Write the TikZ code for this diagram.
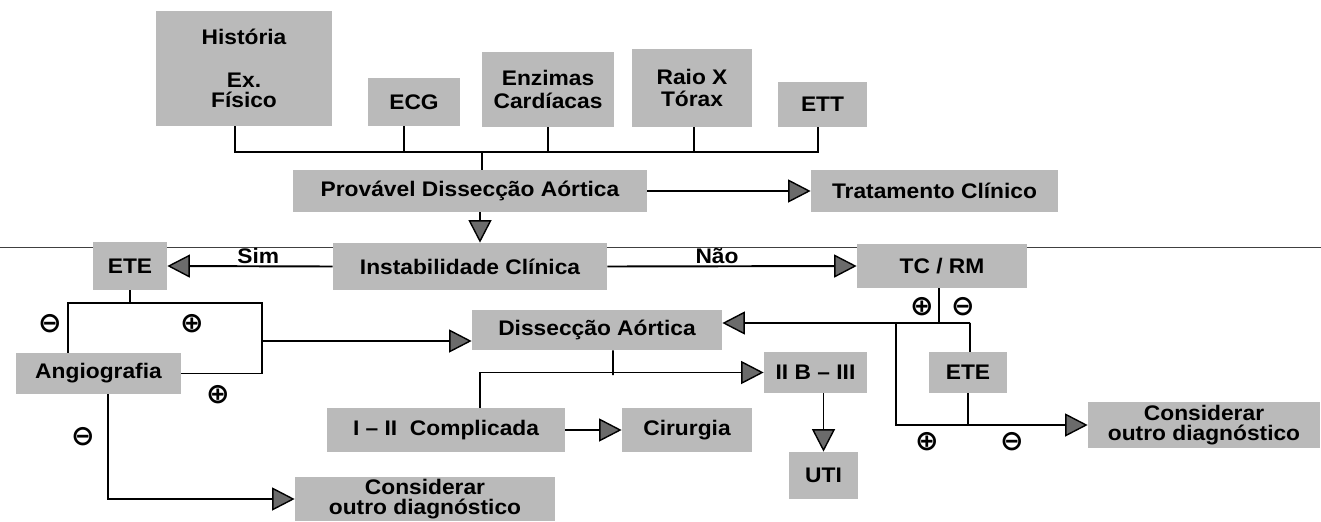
\documentclass[tikz,border=0pt]{standalone}
\usepackage{fontspec}
\setmainfont{Liberation Sans}[FakeStretch=1.08]
\newfontfamily\symfont{DejaVu Sans}
\usetikzlibrary{arrows.meta}
\definecolor{boxgray}{gray}{0.73}
\definecolor{tipgray}{gray}{0.42}
\tikzset{
  bx/.style 2 args={fill=boxgray, minimum width=#1*0.02cm, minimum height=#2*0.02cm,
    inner sep=0pt, align=center, font=\bfseries\fontsize{12}{13}\selectfont},
  ln/.style={line width=1.1pt},
  arr/.style={ln, -{Triangle[length=0.45cm,width=0.46cm,fill=tipgray,line width=0.8pt]}},
  sg/.style={font=\symfont\bfseries\fontsize{16}{16}\selectfont, inner sep=0pt},
  lbl/.style={font=\bfseries\fontsize{12}{13}\selectfont, inner sep=1pt}
}
\begin{document}
\begin{tikzpicture}[x=0.02cm, y=-0.02cm]
\useasboundingbox (0,0) rectangle (1321,521);
% thin page line
\draw[line width=0.5pt, black!75] (0,247) -- (1321,247);

% boxes
\node[bx={176}{115}] (hist) at (244,68.5) {História\\[11pt]Ex.\\[-1.5pt]Físico};
\node[bx={92}{48}] (ecg) at (414,102) {ECG};
\node[bx={132}{75}] (enz) at (548,89.5) {Enzimas\\Cardíacas};
\node[bx={120}{78}] (raio) at (692,88) {Raio X\\Tórax};
\node[bx={89}{45}] (ett) at (822.5,104.5) {ETT};
\node[bx={354}{42}] (prov) at (470,191) {Provável Dissecção Aórtica};
\node[bx={247}{42}] (trat) at (934.5,191) {Tratamento Clínico};
\node[bx={274}{47}] (inst) at (470,266.5) {Instabilidade Clínica};
\node[bx={74}{48}] (eteL) at (130,266) {ETE};
\node[bx={170}{44}] (tcrm) at (942,266) {TC / RM};
\node[bx={250}{40}] (diss) at (597,330) {Dissecção Aórtica};
\node[bx={165}{41}] (angio) at (98.5,373.5) {Angiografia};
\node[bx={103}{41}] (iib) at (815.5,372.5) {II B -- III};
\node[bx={78}{41}] (eteR) at (968,372.5) {ETE};
\node[bx={238}{44}] (comp) at (446,430) {I -- II\ \ Complicada};
\node[bx={130}{44}] (cir) at (687,430) {Cirurgia};
\node[bx={69}{47}] (uti) at (823.5,475.5) {UTI};
\node[bx={232}{46}] (consR) at (1204,425) {Considerar\\[-1.7pt]outro diagnóstico};
\node[bx={260}{44}] (consL) at (425,499) {Considerar\\[-1.7pt]outro diagnóstico};

% top bus
\coordinate (bus) at (482,152);
\draw[ln] ([xshift=-0.18cm]hist.south) |- (bus) -| ([xshift=-0.09cm]ett.south);
\draw[ln] ([xshift=-0.2cm]ecg.south) -- ([xshift=-0.2cm]ecg.south |- bus);
\draw[ln] (enz.south) -- (enz.south |- bus);
\draw[ln] ([xshift=0.04cm]raio.south) -- ([xshift=0.04cm]raio.south |- bus);
\draw[ln] (bus) -- (bus |- prov.north);

% main flow
\draw[arr] (prov.east) -- (trat.west);
\draw[arr] ([xshift=0.2cm]prov.south) -- ([xshift=0.2cm]inst.north);
\draw[arr] (inst.west) -- node[lbl, above, pos=0.45] {Sim} (eteL.east);
\draw[arr] (inst.east) -- node[lbl, above, pos=0.44] {Não} (tcrm.west);

% left branch
\coordinate (ltl) at (68,303);
\coordinate (ltr) at (262,303);
\draw[ln] (eteL.south) -- (eteL.south |- ltl);
\draw[ln] (ltl |- angio.north) -- (ltl) -- (ltr) -- (ltr |- angio.east) -- (angio.east);
\draw[arr] (ltr |- 0,341) -- ([yshift=-0.22cm]diss.west);
\draw[arr] ([xshift=0.19cm]angio.south) |- (consL.west);

% right branch
\coordinate (rr) at (970,323);
\coordinate (rl) at (896,323);
\draw[ln] ([xshift=-0.06cm]tcrm.south) -- ([xshift=-0.06cm]tcrm.south |- rr);
\draw[arr] (rr) -- ([yshift=0.14cm]diss.east);
\draw[ln] (rr) -- (rr |- eteR.north);
\draw[arr] (rl) |- (consR.west);
\draw[ln] (eteR.south) -- (eteR.south |- consR.west);

% dissection branch
\coordinate (dj) at (613,375);
\draw[ln] ([xshift=0.32cm]diss.south) -- (dj);
\draw[arr] ([xshift=0.68cm]comp.north) |- (iib.west);
\draw[arr] (comp.east) -- (cir.west);
\draw[arr] (iib.south -| uti.north) -- (uti.north);

% signs
\node[sg] (s1) at (50,324) {⊖};
\node[sg] (s2) at (192,324) {⊕};
\node[sg] (s3) at (218,395) {⊕};
\node[sg] (s4) at (83,437) {⊖};
\node[sg] (s5) at (922,307) {⊕};
\node[sg] (s6) at (963,307) {⊖};
\node[sg] (s7) at (927,442) {⊕};
\node[sg] (s8) at (1012,442) {⊖};
\end{tikzpicture}
\end{document}
